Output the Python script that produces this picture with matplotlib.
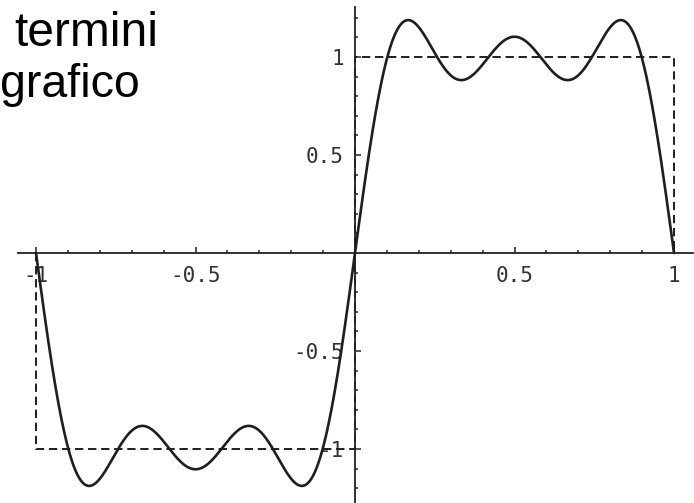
import numpy as np
import matplotlib
matplotlib.use("Agg")
import matplotlib.pyplot as plt
from matplotlib.ticker import FixedLocator

# fourier partial sum of the square wave (3 terms)
harmonics = [1, 3, 5]
coeffs = [1.2732, 0.4244, 0.2546]

# the square wave itself (dashed)
sq_x = [-1, -1, 0, 0, 1, 1]
sq_y = [0, -1, -1, 1, 1, 0]

major_ticks = [-1, -0.5, 0.5, 1]
tick_labels = ["-1", "-0.5", "0.5", "1"]
x_minor = [-0.9, -0.8, -0.7, -0.6, -0.4, -0.3, -0.2, -0.1,
           0.1, 0.2, 0.3, 0.4, 0.6, 0.7, 0.8, 0.9]
y_minor = [-1.2, -1.1, -0.9, -0.8, -0.7, -0.6, -0.4, -0.3, -0.2, -0.1,
           0.1, 0.2, 0.3, 0.4, 0.6, 0.7, 0.8, 0.9, 1.1, 1.2]

slide_text = ["termini", "grafico"]

plt.rcParams["lines.scale_dashes"] = False

fig = plt.figure(figsize=(6.94, 5.03), dpi=100)
ax = fig.add_axes([0, 0, 1, 1])

x = np.linspace(-1, 1, 1200)
y = np.zeros_like(x)
for n, c in zip(harmonics, coeffs):
    y += c * np.sin(n * np.pi * x)

ax.plot(sq_x, sq_y, color="#1e1e1e", lw=1.4, dashes=(6.0, 3.4), zorder=2)
ax.plot(x, y, color="#1e1e1e", lw=1.9, zorder=3, solid_capstyle="round")

# pixel mapping: x=0 at 355px, 319px per unit; y=0 at 253px, 196px per unit
ax.set_xlim(-355 / 319, (694 - 355) / 319)
ax.set_ylim(-(503 - 253) / 196, 253 / 196)

for side in ["top", "right"]:
    ax.spines[side].set_visible(False)
ax.spines["left"].set_position("zero")
ax.spines["bottom"].set_position("zero")
ax.spines["bottom"].set_bounds(-1.057, 1.06)
ax.spines["left"].set_bounds(-1.3, 1.255)
for side in ["left", "bottom"]:
    ax.spines[side].set_linewidth(1.3)
    ax.spines[side].set_color("#222222")

ax.xaxis.set_major_locator(FixedLocator(major_ticks))
ax.yaxis.set_major_locator(FixedLocator(major_ticks))
ax.set_xticklabels(tick_labels)
ax.set_yticklabels(tick_labels)
ax.xaxis.set_minor_locator(FixedLocator(x_minor))
ax.yaxis.set_minor_locator(FixedLocator(y_minor))

ax.tick_params(which="major", direction="in", length=4.5, width=1.1,
               color="#222222", labelsize=15, labelcolor="#333333")
ax.tick_params(which="minor", direction="in", length=2.5, width=1.1,
               color="#222222")
ax.tick_params(axis="x", which="major", pad=9)
ax.tick_params(axis="y", which="major", pad=8)
for lab in ax.get_xticklabels() + ax.get_yticklabels():
    lab.set_family("DejaVu Sans Mono")
    lab.set_fontweight("light")
ax.patch.set_alpha(0)

fig.text(14 / 694, 1 - 46 / 503, slide_text[0], fontsize=34.5,
         family="Liberation Sans", va="baseline", ha="left")
fig.text(0.5 / 694, 1 - 97 / 503, slide_text[1], fontsize=33.5,
         family="Liberation Sans", va="baseline", ha="left")

fig.savefig("out.png", dpi=100)
